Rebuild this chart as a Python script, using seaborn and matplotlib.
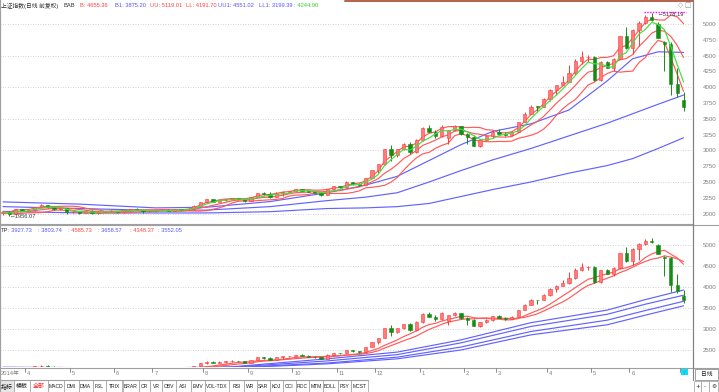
import numpy as np
import pandas as pd
import matplotlib
matplotlib.use("Agg")
import matplotlib.pyplot as plt
from matplotlib.lines import Line2D
from matplotlib.patches import Rectangle
from matplotlib.transforms import blended_transform_factory
import seaborn as sns

# ---------------- data: 3-trading-day candles, mid Mar 2014 .. 3 Jul 2015 ----------------
candle_open = [2005, 2025, 1995, 2067, 2042, 2059, 2107, 2130, 2106, 2066, 2088, 2020, 2028, 2011, 2047, 2005,
               2021, 2034, 2039, 2024, 2052, 2070, 2056, 2034, 2037, 2050, 2060, 2038, 2066, 2055, 2076, 2127,
               2182, 2223, 2187, 2222, 2226, 2239, 2229, 2195, 2266, 2326, 2311, 2256, 2329, 2346, 2357, 2389,
               2359, 2341, 2326, 2290, 2391, 2430, 2418, 2494, 2474, 2452, 2568, 2683, 2779, 3020, 2925, 3021,
               3108, 2967, 3168, 3351, 3294, 3235, 3190, 3323, 3383, 3262, 3204, 3076, 3157, 3222, 3298, 3263,
               3241, 3291, 3449, 3582, 3692, 3691, 3810, 3961, 4034, 4084, 4217, 4414, 4476, 4480, 4112, 4401,
               4308, 4446, 4813, 4620, 4910, 5023, 5106, 5004, 4720, 4691, 4053, 3793]
candle_high = [2035, 2038, 2075, 2074, 2062, 2110, 2146, 2140, 2110, 2095, 2090, 2035, 2030, 2060, 2050, 2030,
               2046, 2062, 2045, 2055, 2075, 2090, 2060, 2045, 2055, 2070, 2075, 2068, 2078, 2080, 2130, 2190,
               2230, 2230, 2230, 2235, 2250, 2248, 2232, 2270, 2330, 2335, 2340, 2335, 2350, 2360, 2392, 2395,
               2380, 2360, 2330, 2395, 2440, 2440, 2510, 2500, 2480, 2570, 2690, 2790, 3020, 3091, 3025, 3110,
               3140, 3180, 3370, 3405, 3330, 3400, 3330, 3406, 3390, 3280, 3240, 3160, 3230, 3300, 3340, 3290,
               3310, 3450, 3600, 3715, 3700, 3835, 3965, 4040, 4170, 4356, 4445, 4572, 4510, 4490, 4410, 4420,
               4470, 4815, 4958, 4920, 5050, 5147, 5178.19, 5030, 4735, 4720, 4300, 3920]
candle_low = [1985, 1956.07, 1990, 2035, 2025, 2040, 2100, 2095, 2060, 2060, 1997, 2010, 1999, 2010, 1995, 2000,
              2018, 2030, 2010, 2015, 2045, 2050, 2015, 2020, 2030, 2045, 2035, 2035, 2050, 2050, 2070, 2125,
              2175, 2180, 2180, 2195, 2225, 2220, 2190, 2195, 2262, 2295, 2250, 2255, 2285, 2335, 2355, 2350,
              2335, 2320, 2280, 2288, 2390, 2400, 2418, 2460, 2440, 2445, 2565, 2640, 2775, 2835, 2900, 3010,
              2950, 2960, 3150, 3285, 3200, 3215, 3095, 3300, 3240, 3100, 3070, 3050, 3150, 3200, 3250, 3220,
              3230, 3285, 3445, 3580, 3600, 3680, 3780, 3880, 4030, 4080, 4200, 4370, 4400, 4100, 4100, 4300,
              4260, 4440, 4600, 4530, 4650, 5000, 5040, 4780, 4264, 3875, 3847, 3629]
candle_close = [2023, 1994, 2067, 2042, 2059, 2107, 2130, 2106, 2066, 2088, 2020, 2028, 2011, 2047, 2005, 2021,
                2034, 2039, 2024, 2052, 2070, 2056, 2034, 2037, 2050, 2060, 2038, 2066, 2055, 2076, 2127, 2182,
                2223, 2187, 2222, 2226, 2239, 2229, 2195, 2266, 2326, 2311, 2256, 2329, 2346, 2357, 2389, 2359,
                2341, 2326, 2290, 2391, 2430, 2418, 2494, 2474, 2452, 2568, 2683, 2779, 3020, 2925, 3021, 3108,
                2967, 3168, 3351, 3294, 3235, 3376, 3323, 3383, 3262, 3204, 3076, 3157, 3222, 3298, 3263, 3241,
                3291, 3449, 3582, 3692, 3691, 3810, 3961, 4034, 4084, 4217, 4414, 4476, 4480, 4112, 4401, 4308,
                4446, 4813, 4620, 4910, 5023, 5106, 5062, 4785, 4691, 4053, 3912, 3687]

month_labels = ['4', '5', '6', '7', '8', '9', '10', '11', '12', '1', '2', '3', '4', '5', '6', '7']
month_first_candle = [4, 11, 18, 24, 32, 39, 46, 53, 59, 66, 73, 78, 86, 93, 99, 107]

# long-period lines of the upper panel (at these candles)
band_index = [0, 12, 24, 32, 42, 51, 57, 62, 67, 72, 77, 83, 89, 95, 99, 103, 107]
band_b1 = [2110, 2080, 2050, 2055, 2110, 2205, 2260, 2330, 2500, 2680, 2850, 3030, 3230, 3430, 3580, 3730, 3875.20]
band_uu1 = [2185, 2150, 2090, 2100, 2190, 2330, 2450, 2590, 2840, 3090, 3300, 3420, 3640, 4100, 4450, 4560, 4551.02]
band_ll1 = [2035, 2010, 2010, 2010, 2030, 2080, 2090, 2110, 2160, 2270, 2380, 2500, 2640, 2760, 2870, 3030, 3199.39]

# TP indicator blue lines of the lower panel
tp_index = [0, 24, 36, 51, 62, 72, 83, 95, 101, 107]
tp_blue_1 = [2090, 2070, 2100, 2290, 2450, 2740, 3150, 3450, 3700, 3927.73]
tp_blue_2 = [2080, 2060, 2090, 2240, 2390, 2670, 3060, 3350, 3590, 3803.74]
tp_blue_3 = [2070, 2050, 2080, 2190, 2330, 2570, 2940, 3210, 3440, 3658.57]
tp_blue_4 = [2060, 2045, 2070, 2170, 2290, 2500, 2860, 3100, 3330, 3552.05]

title_names = ["B", "B1", "UU", "LL", "UU1", "LL1", ""]
title_values = [4655.36, 3875.20, 5119.01, 4191.70, 4551.02, 3199.39, 4244.90]
tp_values = [3927.73, 3803.74, 4585.73, 3658.57, 4348.37, 3552.05]
upper_ticks = list(range(2000, 5001, 250))
lower_ticks = list(range(2500, 5001, 500))
tab_labels = ['指标', '模板', '全部', 'MACD', 'DMI', 'DMA', 'FSL', 'TRIX', 'BRAR', 'CR', 'VR', 'OBV', 'ASI',
              'EMV', 'VOL-TDX', 'RSI', 'WR', 'SAR', 'KDJ', 'CCI', 'ROC', 'MTM', 'BOLL', 'PSY', 'MCST']

# ---------------- style ----------------
sns.set_style("white")
plt.rcParams['font.family'] = ['Liberation Sans', 'Noto Sans CJK SC', 'DejaVu Sans']
plt.rcParams['axes.unicode_minus'] = False

RED = '#ff5a5a'
BLUE = '#6262ff'
GREEN = '#3fe03f'
UP_FACE, UP_EDGE = '#ff7a7a', '#ff3838'
DOWN = '#168c16'
GRID = '#c4c4c4'
AXC = '#a0a0a0'
TXT = '#808080'
FS = 4.4      # axis labels
FT = 4.15     # header texts

df = pd.DataFrame({'k': np.arange(len(candle_close)), 'o': candle_open, 'h': candle_high,
                   'l': candle_low, 'c': candle_close})
cs = df['c']
df['fast'] = cs.rolling(4, min_periods=1).mean()
df['b'] = cs.rolling(7, min_periods=1).mean()
sd = cs.rolling(7, min_periods=1).std(ddof=0).fillna(0)
df['uu'] = df['b'] + sd
df['ll'] = df['b'] - sd
df['tp_r1'] = cs.rolling(8, min_periods=1).mean()
df['tp_r2'] = cs.rolling(11, min_periods=1).mean()

bands = pd.DataFrame({'k': band_index, 'b1': band_b1, 'uu1': band_uu1, 'll1': band_ll1})
tp = pd.DataFrame({'k': tp_index, 'b1': tp_blue_1, 'b2': tp_blue_2, 'b3': tp_blue_3, 'b4': tp_blue_4})

W, H = 719, 392
fig = plt.figure(figsize=(W / 100, H / 100), dpi=100)
fig.patch.set_facecolor('white')


def fx(px):
    return px / W


def fy(py):
    return 1 - py / H


PLOT_R = 693
ax1 = fig.add_axes([0, fy(224), fx(PLOT_R), 224 / H])
ax2 = fig.add_axes([0, fy(367), fx(PLOT_R), (367 - 225) / H])
XL = (-3 / 6.36, (PLOT_R - 3) / 6.36)


def draw_candles(ax):
    up = df['c'] >= df['o']
    for mask, face, edge in [(up, UP_FACE, UP_EDGE), (~up, DOWN, DOWN)]:
        d = df[mask]
        ax.vlines(d['k'], d['l'], d['h'], color=edge, lw=0.7, zorder=3)
        body = (d['c'] - d['o']).abs().clip(lower=6)
        ax.bar(d['k'], body, bottom=np.minimum(d['o'], d['c']), width=0.52,
               color=face, edgecolor=edge, linewidth=0.4, zorder=4)


def style_axis(ax, ticks, ylim, grid_vals):
    ax.set_xlim(*XL)
    ax.set_ylim(*ylim)
    ax.set_xticks([])
    ax.yaxis.tick_right()
    ax.set_yticks(ticks)
    ax.set_yticklabels([str(t) for t in ticks])
    ax.tick_params(axis='y', length=0, pad=7.2, labelsize=FS, labelcolor=TXT)
    ax.set_xlabel('')
    ax.set_ylabel('')
    for v in grid_vals:
        ax.axhline(v, color=GRID, lw=0.6, ls=(0, (1, 2)), zorder=1)
    for s in ax.spines.values():
        s.set_color(AXC)
        s.set_linewidth(0.8)
    ax.spines['right'].set_color('#808080')


# ---------------- upper panel ----------------
lw = 0.85
sns.lineplot(data=bands, x='k', y='ll1', ax=ax1, color=BLUE, lw=lw, zorder=2, legend=False)
sns.lineplot(data=bands, x='k', y='b1', ax=ax1, color=BLUE, lw=lw, zorder=2, legend=False)
sns.lineplot(data=bands, x='k', y='uu1', ax=ax1, color=BLUE, lw=lw, zorder=2, legend=False)
sns.lineplot(data=df, x='k', y='ll', ax=ax1, color=RED, lw=lw, zorder=2, legend=False)
sns.lineplot(data=df, x='k', y='b', ax=ax1, color=RED, lw=lw, zorder=2, legend=False)
sns.lineplot(data=df, x='k', y='uu', ax=ax1, color=RED, lw=lw, zorder=2, legend=False)
draw_candles(ax1)
sns.lineplot(data=df, x='k', y='fast', ax=ax1, color=GREEN, lw=lw, zorder=5, legend=False)
style_axis(ax1, upper_ticks, (1835, 5380), range(2000, 5001, 500))
ax1.spines['top'].set_visible(False)

pk = int(np.argmax(candle_high))
lo = int(np.argmin(candle_low))
ax1.text(pk + 0.9, candle_high[pk] - 25, '\u2190' + f'{candle_high[pk]:.2f}', fontsize=FT,
         color='#303030', ha='left', va='center', zorder=6, family=['Liberation Sans', 'DejaVu Sans'])
ax1.hlines(candle_high[pk] + 15, pk - 1.2, pk + 5.4, color='#ff00ff', lw=1.0, ls=(0, (1, 1)), zorder=6)
ax1.text(lo + 0.15, candle_low[lo] - 10, '\u2190' + f'{candle_low[lo]:.2f}', fontsize=FT,
         color='#404040', ha='left', va='center', zorder=6, family=['Liberation Sans', 'DejaVu Sans'])

# ---------------- lower panel ----------------
for col in ['b4', 'b3', 'b2', 'b1']:
    sns.lineplot(data=tp, x='k', y=col, ax=ax2, color=BLUE, lw=lw, zorder=2, legend=False)
sns.lineplot(data=df, x='k', y='tp_r2', ax=ax2, color=RED, lw=lw, zorder=2, legend=False)
sns.lineplot(data=df, x='k', y='tp_r1', ax=ax2, color=RED, lw=lw, zorder=2, legend=False)
draw_candles(ax2)
style_axis(ax2, lower_ticks, (2095, 5476), range(2500, 5001, 500))
ax2.spines['top'].set_visible(False)
ax2.spines['bottom'].set_visible(False)

# ---------------- header texts ----------------
red_t, blue_t, green_t, dark = '#ff4040', '#5555ff', '#33cc33', '#303030'
title_cols = [red_t, blue_t, red_t, red_t, blue_t, blue_t, green_t]
title_x = [80, 115, 150, 186, 218, 259, 294]
fig.text(fx(1), fy(5.5), '上证指数(日线 前复权)', fontsize=FT, color=dark, va='center', ha='left')
fig.text(fx(64), fy(5.5), 'BAB', fontsize=FT, color=dark, va='center', ha='left')
for name, val, col, x in zip(title_names, title_values, title_cols, title_x):
    fig.text(fx(x), fy(5.5), f'{name}: {val:.2f}', fontsize=FT, color=col, va='center', ha='left')

tp_cols = [blue_t, blue_t, red_t, blue_t, red_t, blue_t]
tp_x = [8, 38, 68, 98, 130, 158]
fig.text(fx(1), fy(230), 'TP', fontsize=FT, color=dark, va='center', ha='left')
for val, col, x in zip(tp_values, tp_cols, tp_x):
    fig.text(fx(x), fy(230), f': {val:.2f}', fontsize=FT, color=col, va='center', ha='left')

# icons top right
fig.text(fx(681), fy(5.5), '\u25c7', fontsize=FS + 0.5, color='#909090', ha='center', va='center',
         family=['DejaVu Sans'])
fig.text(fx(688), fy(5.5), '\u25a1', fontsize=FS + 0.5, color='#909090', ha='center', va='center',
         family=['DejaVu Sans'])


# ---------------- frame lines ----------------
def fline(x0, y0, x1, y1, color=AXC, lw=0.8):
    fig.add_artist(Line2D([fx(x0), fx(x1)], [fy(y0), fy(y1)], color=color, lw=lw))


fline(345, 0.8, PLOT_R, 0.8, color='#b5604c', lw=1.4)
fline(0, 224.5, W, 224.5)
fline(0, 367.5, W, 367.5)
fline(0, 379.5, 368, 379.5)
fline(PLOT_R, 0, PLOT_R, 380, color='#808080')
fline(0.4, 0, 0.4, 392)

# ---------------- x axis row ----------------
trans = blended_transform_factory(ax2.transData, fig.transFigure)
fig.text(fx(1), fy(373.5), '2014年', fontsize=FT, color=TXT, ha='left', va='center')
for lab, k in zip(month_labels, month_first_candle):
    xk = k - 0.5
    fig.add_artist(Line2D([xk, xk], [fy(368), fy(371.5)], transform=trans, color=TXT, lw=0.6))
    fig.text(xk + 0.3, fy(373.5), lab, transform=trans, fontsize=FT, color=TXT, ha='left', va='center')
fig.add_artist(Rectangle((fx(681), fy(374.5)), fx(7), 6.5 / H, facecolor='#00e5ff', edgecolor='none'))

# ---------------- tab row ----------------
edges = [0, 13.5, 30, 47.5, 64, 78.5, 92.5, 106.5, 122.5, 138.5, 150, 162, 176, 190.5, 205, 229, 244, 256.5,
         270, 283, 296, 309, 323, 337.5, 351, 368]
for i, lab in enumerate(tab_labels):
    x0, x1 = edges[i], edges[i + 1]
    face = '#e6e6e6' if i == 0 else 'white'
    fig.add_artist(Rectangle((fx(x0), fy(391.5)), fx(x1 - x0), 11.5 / H, facecolor=face,
                             edgecolor='#a8a8a8', lw=0.6))
    col = '#ff2020' if lab == '全部' else '#202020'
    fsz = 4.3 if ord(lab[0]) > 255 else 3.6
    fig.text(fx((x0 + x1) / 2), fy(386), lab, fontsize=fsz, color=col, ha='center', va='center')

# right bottom controls
fig.add_artist(Rectangle((fx(695), fy(380)), fx(23), 11 / H, facecolor='white', edgecolor='#909090', lw=0.6))
fig.text(fx(706.5), fy(374.5), '日线', fontsize=FT, color='#202020', ha='center', va='center')
for x0, x1, s in [(694, 701, '+'), (701, 709, '-'), (709, 718, '\u2699')]:
    fig.add_artist(Rectangle((fx(x0), fy(391.5)), fx(x1 - x0), 10.5 / H, facecolor='white',
                             edgecolor='#a8a8a8', lw=0.6))
    fig.text(fx((x0 + x1) / 2), fy(386.5), s, fontsize=FT, color='#303030', ha='center', va='center',
             family=['DejaVu Sans'])

fig.savefig('out.png', dpi=100, facecolor='white')
